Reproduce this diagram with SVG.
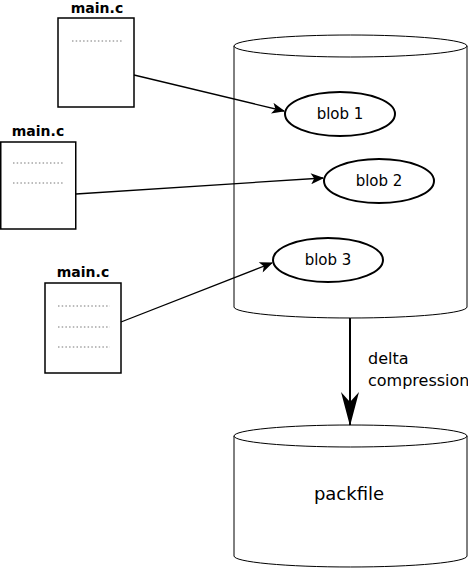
<svg xmlns="http://www.w3.org/2000/svg" width="468" height="568" viewBox="0 0 468 568">
<style>
.doc{fill:#fff;stroke:#000;stroke-width:1.5}
.dots{stroke:#777;stroke-width:1;stroke-dasharray:1.5 2.2}
.title{font-family:"DejaVu Sans",sans-serif;font-size:14px;font-weight:bold;text-anchor:middle}
.lbl{font-family:"DejaVu Sans",sans-serif;font-size:15px;text-anchor:middle}
.cyl{fill:#fff;stroke:#000;stroke-width:1}
.blob{fill:#fff;stroke:#000;stroke-width:2}
.conn{fill:none;stroke:#000;stroke-width:1.3}
</style>
<defs>
<marker id="ah" viewBox="0 0 12 10" refX="11" refY="5" markerWidth="14" markerHeight="11" markerUnits="userSpaceOnUse" orient="auto">
<path d="M0,0 L12,5 L0,10 L3,5 Z" fill="#000"/>
</marker>
<marker id="bigah" viewBox="0 0 34 18" refX="33" refY="9" markerWidth="34" markerHeight="18" markerUnits="userSpaceOnUse" orient="auto">
<path d="M0,0 L10,9 L0,18 L34,9 Z" fill="#000"/>
</marker>
</defs>
<g id="repo">
<path class="cyl" d="M234,46 L234,307 A116.5,11 0 0 0 467,307 L467,46"/>
<ellipse class="cyl" cx="350.5" cy="46" rx="116.5" ry="11"/>
</g>
<g id="packfile">
<path class="cyl" d="M234,436 L234,556 A116.5,11 0 0 0 467,556 L467,436"/>
<ellipse class="cyl" cx="350.5" cy="436" rx="116.5" ry="11"/>
<text class="lbl" x="349" y="500" style="font-size:18px">packfile</text>
</g>
<g id="doc1">
<text class="title" x="97" y="13">main.c</text>
<rect class="doc" x="58" y="18" width="76" height="89"/>
<line class="dots" x1="72" y1="41" x2="122" y2="41"/>
</g>
<g id="doc2">
<text class="title" x="38" y="136">main.c</text>
<rect class="doc" x="0.75" y="142" width="75" height="87"/>
<line class="dots" x1="13" y1="163" x2="63" y2="163"/>
<line class="dots" x1="13" y1="183" x2="63" y2="183"/>
</g>
<g id="doc3">
<text class="title" x="83" y="277">main.c</text>
<rect class="doc" x="45" y="283" width="76" height="90"/>
<line class="dots" x1="58" y1="306" x2="110" y2="306"/>
<line class="dots" x1="58" y1="327" x2="110" y2="327"/>
<line class="dots" x1="58" y1="347" x2="110" y2="347"/>
</g>
<g id="blob1">
<ellipse class="blob" cx="340" cy="114" rx="55" ry="22"/>
<text class="lbl" x="340" y="119">blob 1</text>
</g>
<g id="blob2">
<ellipse class="blob" cx="379" cy="181" rx="55" ry="22"/>
<text class="lbl" x="379" y="186">blob 2</text>
</g>
<g id="blob3">
<ellipse class="blob" cx="328" cy="260" rx="55" ry="22"/>
<text class="lbl" x="328" y="265">blob 3</text>
</g>
<g id="connectors">
<line class="conn" x1="134" y1="75" x2="284" y2="111" marker-end="url(#ah)"/>
<line class="conn" x1="76" y1="194" x2="323" y2="178" marker-end="url(#ah)"/>
<line class="conn" x1="121" y1="322" x2="272" y2="263" marker-end="url(#ah)"/>
<line x1="350" y1="318" x2="350" y2="425" stroke="#000" stroke-width="2" marker-end="url(#bigah)"/>
<text x="368" y="364" style="font-family:'DejaVu Sans',sans-serif;font-size:16px">delta</text>
<text x="368" y="386" style="font-family:'DejaVu Sans',sans-serif;font-size:16px">compression</text>
</g>
</svg>
